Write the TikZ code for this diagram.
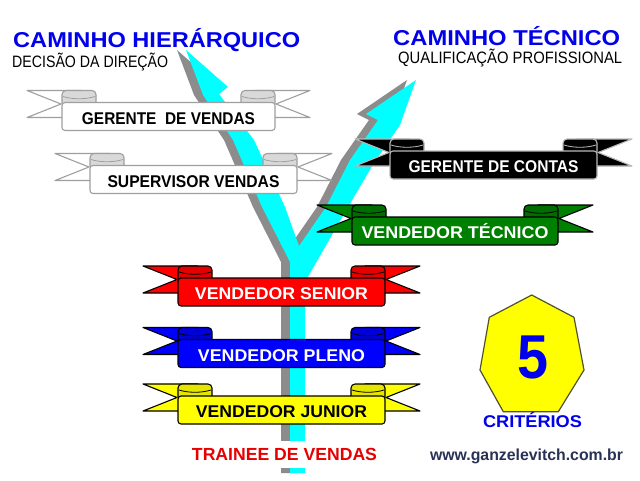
\documentclass[tikz,border=0pt]{standalone}
\usepackage{fontspec}
\setmainfont{Liberation Sans}
\usepackage{graphicx}
\newcommand\fitw[2]{\resizebox{#1pt}{\height}{#2}}
\definecolor{titleblue}{RGB}{0,0,235}
\definecolor{arrowcyan}{RGB}{0,255,255}
\definecolor{shadowgray}{RGB}{140,140,140}
\definecolor{traineered}{RGB}{230,0,0}
\definecolor{urlcol}{RGB}{40,50,85}
\definecolor{heptyellow}{RGB}{255,255,0}
\definecolor{heptline}{RGB}{80,80,50}
\definecolor{bngreen}{RGB}{0,128,0}
\definecolor{bnred}{RGB}{255,0,0}
\definecolor{bnblue}{RGB}{0,0,255}
\definecolor{bnyellow}{RGB}{255,255,0}
\newcommand\bncolors[4]{\colorlet{bnfill}{#1}\colorlet{bnfold}{#2}\colorlet{bnline}{#3}\colorlet{bntxt}{#4}}
\newcommand\banner[6]{%
  \filldraw[bnpart] ({#2-#4+20},{#3-26}) -- ({#2-#4-35},{#3-26}) -- ({#2-#4-1},{#3-12.5}) -- ({#2-#4-35},{#3+1}) -- ({#2-#4+20},{#3+1}) -- cycle;
  \filldraw[bnpart] ({#2+#4-20},{#3-26}) -- ({#2+#4+35},{#3-26}) -- ({#2+#4+1},{#3-12.5}) -- ({#2+#4+35},{#3+1}) -- ({#2+#4-20},{#3+1}) -- cycle;
  \filldraw[bnfoldst] ({#2-#4},{#3-26}) rectangle ({#2-#4+34},{#3-9});
  \filldraw[bnfoldst] ({#2+#4-34},{#3-26}) rectangle ({#2+#4},{#3-9});
  \draw[bnline, line width=0.8pt] ({#2-#4+1},{#3-20}) .. controls ({#2-#4+10},{#3-17}) and ({#2-#4+24},{#3-17}) .. ({#2-#4+33},{#3-20});
  \draw[bnline, line width=0.8pt] ({#2+#4-33},{#3-20}) .. controls ({#2+#4-24},{#3-17}) and ({#2+#4-10},{#3-17}) .. ({#2+#4-1},{#3-20});
  \filldraw[bnpart, rounded corners=3] ({#2-#4},{#3-14}) rectangle ({#2+#4},{#3+14});
  \node[bntext] (#1) at (#2,{#3+7.5}) {\fitw{#5}{#6}};
}
\tikzset{
  bnpart/.style={fill=bnfill, draw=bnline, line width=1.1pt, line join=round},
  bnfoldst/.style={fill=bnfold, draw=bnline, line width=1.1pt, rounded corners=4},
  bntext/.style={anchor=base, inner sep=0pt, text=bntxt, font=\fontsize{17}{20}\selectfont\bfseries},
  headtxt/.style={anchor=base west, inner sep=0pt, text=titleblue, font=\fontsize{21.5}{24}\selectfont\bfseries},
  subtxt/.style={anchor=base west, inner sep=0pt, text=black, font=\fontsize{16.5}{19}\selectfont},
  yshape/.pic={
    \fill (290,473) -- (290,262) -- (262,207) -- (233,140) -- (203,95) -- (186,50) -- (228,87) -- (219,94)
      -- (254,140) -- (285,207) -- (299,246) -- (326,207) -- (350,160) -- (378,120) -- (366,114)
      -- (416,80) -- (400,125) -- (374,163) -- (348,207) -- (305,282) -- (305,473) -- cycle;
  }
}
\begin{document}
\begin{tikzpicture}[x=1pt,y=-1pt]
\path[use as bounding box, fill=white] (0,0) rectangle (640,480);
% Y arrow with shadow
\pic[shadowgray, xshift=-9pt] {yshape};
\pic[arrowcyan] {yshape};
% banners
\bncolors{white}{gray!30}{gray!75}{black}
\banner{gv}{168.5}{116.5}{106.5}{173}{GERENTE\ \ DE VENDAS}
\banner{sv}{193.5}{179.5}{103.5}{172}{SUPERVISOR VENDAS}
\bncolors{black}{black}{gray!55}{white}
\banner{gc}{493.5}{165}{103.5}{170}{GERENTE DE CONTAS}
\bncolors{bngreen}{bngreen!85!black}{black}{white}
\banner{vt}{455}{231}{103}{187}{VENDEDOR TÉCNICO}
\bncolors{bnred}{bnred!90!black}{black}{white}
\banner{vs}{281.5}{292}{103.5}{173}{VENDEDOR SENIOR}
\bncolors{bnblue}{bnblue!85!black}{black}{white}
\banner{vp}{281.5}{353.5}{103.5}{167}{VENDEDOR PLENO}
\bncolors{bnyellow}{bnyellow!90!black}{black}{black}
\banner{vj}{281.5}{410}{103.5}{171}{VENDEDOR JUNIOR}
% titles
\node[headtxt] (hier) at (13,47) {\fitw{287}{CAMINHO HIERÁRQUICO}};
\node[subtxt] (dec) at (12,67) {\fitw{156}{DECISÃO DA DIREÇÃO}};
\node[headtxt] (tec) at (393,45) {\fitw{227}{CAMINHO TÉCNICO}};
\node[subtxt] (qual) at (398,63) {\fitw{224}{QUALIFICAÇÃO PROFISSIONAL}};
% trainee
\node[fill=white, inner sep=0pt, minimum width=192pt, minimum height=27pt, text=traineered,
      font=\fontsize{17.5}{20}\selectfont\bfseries] (trainee) at (284.5,454.5) {\fitw{185}{TRAINEE DE VENDAS}};
% heptagon
\filldraw[fill=heptyellow, draw=heptline, line width=1.2pt, line join=round]
  (531.7,295) -- (574,317.3) -- (584,370) -- (558.3,411.7) -- (503.3,411.7) -- (480,370) -- (489.3,317.3) -- cycle;
\node[anchor=base, inner sep=0pt, text=titleblue, font=\fontsize{62}{62}\selectfont\bfseries] (five) at (532.5,378) {\fitw{31}{5}};
\node[anchor=base, inner sep=0pt, text=titleblue, font=\fontsize{17}{20}\selectfont\bfseries] (crit) at (532.5,427) {\fitw{99}{CRITÉRIOS}};
\node[anchor=base, inner sep=0pt, text=urlcol, font=\fontsize{16}{19}\selectfont\bfseries] (url) at (526.5,460) {\fitw{193}{www.ganzelevitch.com.br}};
\end{tikzpicture}
\end{document}
